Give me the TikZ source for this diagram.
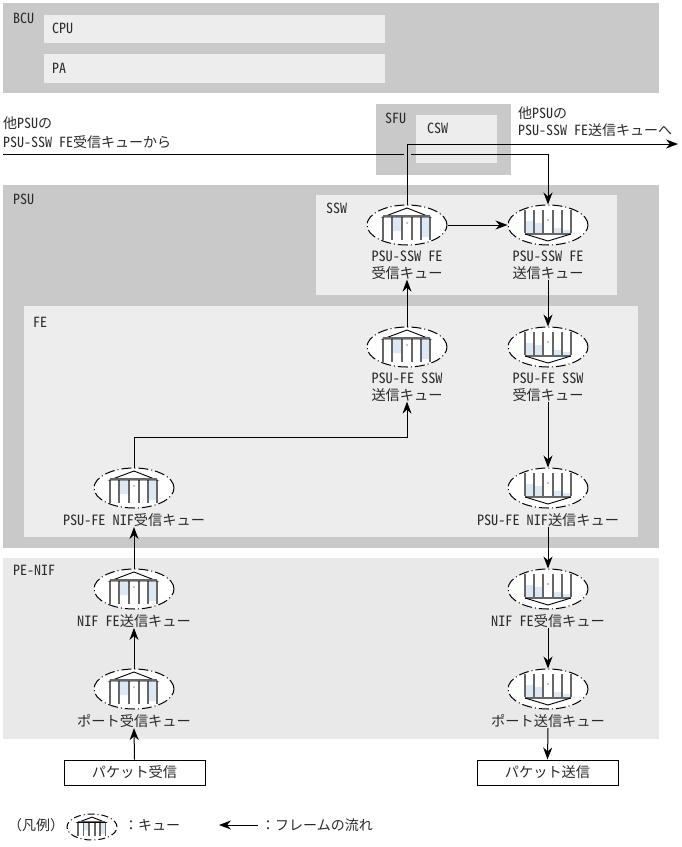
\documentclass[tikz,border=0pt]{standalone}
\usepackage{fontspec}
\setmainfont{Noto Sans CJK JP}
\newfontfamily\halffont[CharacterWidth=Half]{Noto Sans CJK JP}
\newcommand{\hw}[1]{{\halffont #1}}
\usetikzlibrary{arrows.meta,positioning,shapes.geometric}
\definecolor{regiondark}{HTML}{C9C9C9}
\definecolor{regionlight}{HTML}{EDEDED}
\definecolor{nifgray}{HTML}{E9E9E9}
\definecolor{levelblue}{HTML}{DCE9F5}
\definecolor{barline}{HTML}{666666}
\definecolor{inkgray}{HTML}{2A2A2A}
\tikzset{
  dark/.style={fill=regiondark},
  light/.style={fill=regionlight},
  tag/.style={anchor=west,inner sep=0pt,text=inkgray,font=\fontsize{14}{17}\selectfont},
  ring/.style={ellipse,draw,fill=white,line width=1pt,dash pattern=on 10pt off 3pt on 1pt off 3pt,
    minimum width=80pt,minimum height=40pt,inner sep=0pt},
  qlabel/.style={below=5pt of #1,inner sep=0pt,align=center,text=inkgray,font=\fontsize{14.2}{17}\selectfont},
  flow/.style={-{Stealth[length=12pt,width=9pt]},line width=1pt},
  packetbox/.style={draw,fill=white,line width=1pt,minimum width=141pt,minimum height=25pt,
    inner sep=0pt,text=inkgray,font=\fontsize{14.2}{16}\selectfont},
  rxglyph/.pic={
    \fill[levelblue] (-15,-8) rectangle (-5,6) (14,-8) rectangle (23,12);
    \foreach \bx in {-24,-15,-5,5,14,23}
      \draw[barline,line width=1.6pt] (\bx,-8)--(\bx,15);
    \draw[line width=0.9pt] (-24,-8)--(0,-17)--(23,-8)--cycle;
    \draw[barline,line width=1.4pt] (-24,-9)--(23,-9);
    \fill (0,-2) circle (0.6);
  },
  txglyph/.pic={
    \fill[levelblue] (-23,-4) rectangle (-14,8) (-14,-2) rectangle (-5,8) (5,3) rectangle (14,8) (14,5) rectangle (23,8);
    \foreach \bx in {-23,-14,-5,5,14,23}
      \draw[barline,line width=1.6pt] (\bx,-15)--(\bx,8);
    \draw[barline,line width=1.4pt] (-23,9)--(23,9);
    \draw[line width=0.9pt] (-23,9)--(0,16)--(23,9);
    \fill (0,-5) circle (0.6);
  },
}
\begin{document}
\begin{tikzpicture}[x=1pt,y=-1pt]
\useasboundingbox (0,0) rectangle (681,847);
%regions
\fill[dark] (3,3) rectangle (659,93);
\fill[light] (44,15) rectangle (385,43);
\fill[light] (44,54) rectangle (385,83);
\fill[dark] (376,104) rectangle (511,175);
\fill[light] (416,115) rectangle (497,163);
\fill[dark] (3,185) rectangle (659,548);
\fill[light] (316,195) rectangle (617,295);
\fill[light] (24,306) rectangle (638,537);
\fill[nifgray] (3,558) rectangle (659,739);
%region names
\node[tag] (bcu) at (13,18) {\hw{BCU}};
\node[tag] (cpu) at (52,28) {\hw{CPU}};
\node[tag] (pa) at (52,68) {\hw{PA}};
\node[tag] (sfu) at (385,118) {\hw{SFU}};
\node[tag] (csw) at (427,128) {\hw{CSW}};
\node[tag] (psu) at (13,199) {\hw{PSU}};
\node[tag] (ssw) at (326,208) {\hw{SSW}};
\node[tag] (fe) at (33,322) {\hw{FE}};
\node[tag] (penif) at (13,570) {\hw{PE-NIF}};
%queues
\foreach \qname/\qx/\qy in {sswrx/407/225,fetx/407/347,nifrx/134/488,niftx/134/589,portrx/134/689}{
  \node[ring] (\qname) at (\qx,\qy) {};
  \pic at (\qname) {rxglyph};
}
\foreach \qname/\qx/\qy in {sswtx/548/225,ferx/548/347,nifsend/548/488,nifget/548/589,portsend/548/689}{
  \node[ring] (\qname) at (\qx,\qy) {};
  \pic at (\qname) {txglyph};
}
%queue labels
\node[qlabel=sswrx] (sswrxl) {\hw{PSU-SSW FE}\\受信キュー};
\node[qlabel=sswtx] (sswtxl) {\hw{PSU-SSW FE}\\送信キュー};
\node[qlabel=fetx] (fetxl) {\hw{PSU-FE SSW}\\送信キュー};
\node[qlabel=ferx] (ferxl) {\hw{PSU-FE SSW}\\受信キュー};
\node[qlabel=nifrx] (nifrxl) {\hw{PSU-FE NIF}受信キュー};
\node[qlabel=nifsend] (nifsendl) {\hw{PSU-FE NIF}送信キュー};
\node[qlabel=niftx] (niftxl) {\hw{NIF FE}送信キュー};
\node[qlabel=nifget] (nifgetl) {\hw{NIF FE}受信キュー};
\node[qlabel=portrx] (portrxl) {ポート受信キュー};
\node[qlabel=portsend] (portsendl) {ポート送信キュー};
%packets
\node[packetbox] (recv) at (134.5,772.5) {パケット受信};
\node[packetbox] (send) at (547.5,772.5) {パケット送信};
%other PSU texts
\node[tag] (otherin) at (3,123) {他\hw{PSU}の};
\node[tag] (otherinb) at (3,142) {\hw{PSU-SSW FE}受信キューから};
\node[tag] (otherout) at (518,113) {他\hw{PSU}の};
\node[tag] (otheroutb) at (518,130) {\hw{PSU-SSW FE}送信キューへ};
%free ends
\coordinate (inl) at (3,154.5);
\coordinate (gapl) at (404,154.5);
\coordinate (gapr) at (411,154.5);
\coordinate (inturn) at (548,154.5);
\coordinate (outturn) at (407,144);
\coordinate (outr) at (678,144);
\coordinate (feturn) at (407,437);
%flows
\draw[line width=1pt] (inl)--(gapl);
\draw[flow] (gapr)--(inturn)--(sswtx.north);
\draw[flow] (sswrx.north)--(outturn)--(outr);
\draw[flow] (sswrx.east)--(sswtx.west);
\draw[flow] (sswtxl.south)--(ferx.north);
\draw[flow] (ferxl.south)--(nifsend.north);
\draw[flow] (nifsendl.south)--(nifget.north);
\draw[flow] (nifgetl.south)--(portsend.north);
\draw[flow] (portsendl.south)--(send.north);
\draw[flow] (recv.north)--(portrxl.south);
\draw[flow] (portrx.north)--(niftxl.south);
\draw[flow] (niftx.north)--(nifrxl.south);
\draw[flow] (nifrx.north)|-(feturn)--(fetxl.south);
\draw[flow] (fetx.north)--(sswrxl.south);
%legend
\node[tag] (legend) at (8,825) {（凡例）};
\node[ring,minimum width=50pt,minimum height=26pt,dash pattern=on 7pt off 3pt on 1pt off 3pt] (legendq) at (92,827) {};
\pic[scale=0.58] at (legendq) {rxglyph};
\node[tag] (legendqt) at (124,825) {：キュー};
\coordinate (legendr) at (258,825);
\coordinate (legendl) at (219,825);
\draw[flow] (legendr)--(legendl);
\node[tag] (legendft) at (261,825) {：フレームの流れ};
\end{tikzpicture}
\end{document}
